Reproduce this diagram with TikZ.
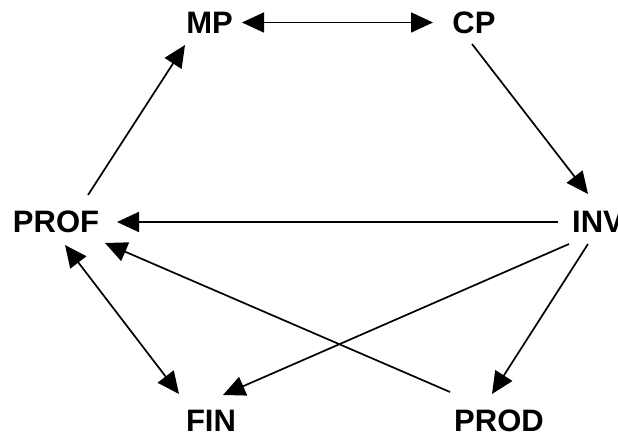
\documentclass[tikz,border=0pt]{standalone}
\usepackage{fontspec}
\setmainfont{Liberation Sans}
\usetikzlibrary{arrows.meta}
\begin{document}
\begin{tikzpicture}[x=1pt,y=1pt,
  lbl/.style={inner sep=0pt, font=\fontsize{31}{31}\selectfont\bfseries},
  conn/.style={line width=1.7pt, -{Triangle[length=22pt,width=20pt]}},
  both/.style={line width=1.7pt, {Triangle[length=22pt,width=20pt]}-{Triangle[length=22pt,width=20pt]}}]
\useasboundingbox (0,0) rectangle (618,439);
\node[lbl] (MP) at (209.5,416.5) {MP};
\node[lbl] (CP) at (474,416.5) {CP};
\node[lbl] (PROF) at (56,217) {PROF};
\node[lbl] (INV) at (598,217) {INV};
\node[lbl] (FIN) at (211,18) {FIN};
\node[lbl] (PROD) at (499,18) {PROD};
\draw[both] ([shift={(32.5,0)}]MP.center) -- ([shift={(-41,0)}]CP.center);
\draw[conn] ([shift={(32,27)}]PROF.center) -- ([shift={(-24.5,-22.5)}]MP.center);
\draw[conn] ([shift={(-2,-21.5)}]CP.center) -- ([shift={(-10,28)}]INV.center);
\draw[conn] ([shift={(-40,0)}]INV.center) -- ([shift={(61,0)}]PROF.center);
\draw[both] ([shift={(9,-23)}]PROF.center) -- ([shift={(-32,27)}]FIN.center);
\draw[conn] ([shift={(-49,29)}]PROD.center) -- ([shift={(49,-21)}]PROF.center);
\draw[conn] ([shift={(-29,-22)}]INV.center) -- ([shift={(12,26)}]FIN.center);
\draw[conn] ([shift={(-10,-22)}]INV.center) -- ([shift={(-7,27)}]PROD.center);
\end{tikzpicture}
\end{document}
